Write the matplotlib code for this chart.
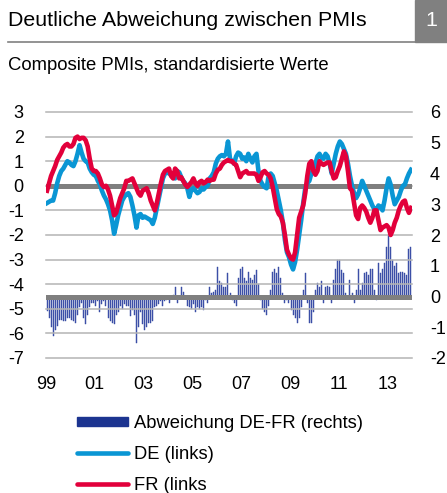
import numpy as np
import matplotlib
matplotlib.use("Agg")
import matplotlib.pyplot as plt
from matplotlib.patches import Rectangle, Patch
from matplotlib.lines import Line2D

plt.rcParams['font.family'] = ['Liberation Sans', 'DejaVu Sans']

# monthly values Jan 1999 - Dec 2013
de = [-0.7, -0.65, -0.6, -0.6, -0.3, 0.1, 0.4, 0.6, 0.7, 0.85, 1.0, 0.95,
      0.85, 0.8, 1.0, 1.3, 1.65, 1.35, 1.1, 1.0, 0.95, 0.7, 0.55, 0.45,
      0.4, 0.2, 0.05, -0.2, -0.4, -0.55, -0.75, -1.0, -1.4, -1.95, -1.6, -1.2,
      -0.9, -0.6, -0.45, -0.35, -0.3, -0.45, -0.8, -1.2, -1.7, -1.2, -1.15, -1.3,
      -1.25, -1.3, -1.35, -1.4, -1.55, -1.3, -0.9, -0.5, -0.1, 0.3, 0.5, 0.55,
      0.5, 0.45, 0.35, 0.3, 0.6, 0.55, 0.35, 0.2, 0.1, -0.1, -0.45, -0.15,
      -0.1, -0.2, -0.3, -0.25, -0.1, -0.15, -0.05, 0.0, 0.3, 0.4, 0.55, 0.9,
      1.1, 1.2, 1.25, 1.2, 1.3, 1.8, 1.1, 1.0, 0.9, 1.2, 1.35, 1.3,
      1.1, 1.15, 1.0, 1.3, 1.1, 0.95, 1.2, 1.3, 0.6, 0.2, 0.05, -0.05,
      -0.1, 0.4, 0.5, 0.4, 0.1, -0.2, -0.6, -1.0, -1.5, -2.2, -2.7, -2.9,
      -3.2, -3.4, -3.1, -2.6, -2.0, -1.4, -0.7, -0.1, 0.1, 0.2, 0.5, 0.7,
      0.9, 1.2, 1.3, 1.15, 1.1, 1.3, 1.2, 0.9, 0.5, 0.9, 1.3, 1.6,
      1.8, 1.7, 1.5, 1.3, 0.9, 0.4, 0.0, -0.3, -0.5, -0.35, -0.1, 0.2,
      0.0, -0.2, -0.4, -0.6, -0.8, -0.95, -1.0, -0.8, -0.85, -1.0, -0.6, -0.1,
      0.3, 0.05, -0.4, -0.75, -0.6, -0.45, -0.2, 0.0, 0.05, 0.3, 0.5, 0.65]

fr = [-0.2, 0.1, 0.4, 0.6, 0.8, 1.05, 1.2, 1.35, 1.55, 1.65, 1.7, 1.6,
      1.6, 1.7, 1.95, 2.0, 1.9, 1.95, 1.95, 1.85, 1.6, 1.1, 0.7, 0.6,
      0.6, 0.5, 0.3, 0.05, -0.05, 0.0, -0.15, -0.4, -0.8, -1.2, -1.1, -0.8,
      -0.5, -0.3, -0.1, 0.2, 0.2, 0.25, 0.3, 0.1, -0.1, -0.3, -0.4, -0.2,
      -0.15, -0.1, -0.3, -0.6, -0.8, -1.0, -0.7, -0.3, 0.1, 0.45, 0.6, 0.65,
      0.7, 0.4, 0.3, 0.7, 0.6, 0.3, 0.35, 0.2, 0.05, -0.05, 0.05, 0.15,
      0.3, 0.1, 0.0, 0.15, 0.2, 0.1, 0.15, 0.25, 0.2, 0.25, 0.25, 0.5,
      0.65, 0.7, 0.85, 0.95, 1.0, 1.05, 1.0, 1.0, 0.9, 0.85, 0.6, 0.35,
      0.5, 0.55, 0.6, 0.5, 0.5, 0.5, 0.5, 0.45, 0.2, 0.35, 0.55, 0.6,
      0.5, 0.45, 0.3, -0.05, -0.5, -0.95, -1.15, -1.25, -1.5, -2.0, -2.6, -2.8,
      -2.95, -3.0, -2.7, -2.0, -1.3, -1.05, -0.8, -0.3, 0.4, 0.9, 1.0, 0.6,
      0.45, 0.6, 1.0, 0.9, 0.85, 0.9, 0.95, 0.95, 0.6, 0.3, 0.35, 0.6,
      0.8, 1.1, 1.4, 1.2, 0.6, -0.1, -0.2, -0.7, -1.2, -1.35, -0.9, -0.8,
      -0.9, -1.05, -1.3, -1.5, -1.3, -1.0, -1.0, -1.4, -1.8, -1.7, -1.65, -1.6,
      -1.7, -2.0, -1.8, -1.5, -1.3, -1.0, -0.8, -0.65, -0.6, -0.9, -1.1, -0.9]

abw = [-0.46, -0.7, -1.0, -1.27, -1.1, -0.95, -0.75, -0.75, -0.8, -0.8, -0.7, -0.7,
       -0.75, -0.8, -0.85, -0.6, -0.35, -0.2, -0.7, -0.9, -0.6, -0.35, -0.2, -0.2,
       -0.3, -0.15, -0.5, -0.25, -0.15, -0.3, -0.7, -0.8, -0.85, -0.9, -0.6, -0.5,
       -0.3, -0.4, -0.25, -0.3, -0.3, -0.65, -0.45, -0.6, -1.5, -1.0, -0.5, -0.9,
       -1.1, -1.0, -0.85, -0.85, -0.8, -0.35, -0.3, -0.25, -0.15, -0.3, -0.15, -0.1,
       -0.2, 0.0, 0.05, 0.3, -0.2, 0.0, 0.3, 0.15, 0.0, -0.3, -0.35, -0.4,
       -0.25, -0.5, -0.35, -0.4, -0.35, -0.45, -0.1, -0.2, 0.3, 0.1, 0.15, 0.2,
       0.95, 0.5, 0.45, 0.3, 0.3, 0.75, 0.1, -0.1, -0.2, -0.3, 0.6, 0.9,
       0.95, 0.6, 0.5, 0.8, 0.6, 0.55, 0.7, 0.85, 0.4, -0.1, -0.4, -0.5,
       -0.6, -0.3, 0.2, 0.8, 0.9, 0.75, 0.95, 0.6, 0.1, -0.2, -0.1, -0.2,
       -0.45, -0.6, -0.7, -0.85, -0.7, -0.35, 0.2, 0.75, -0.2, -0.85, -0.85, -0.5,
       0.2, 0.45, 0.3, 0.5, -0.2, 0.3, 0.35, 0.3, -0.2, 0.55, 0.9, 1.2,
       1.2, 0.85, 0.75, 0.1, -0.05, 0.55, 0.1, -0.2, 0.2, 0.9, 0.2, 0.45,
       0.76, 0.8, 0.7, 0.9, 0.88, 0.2, -0.1, 1.1, 0.75, 0.9, 1.1, 1.6,
       2.0, 1.6, 1.2, 1.0, 1.1, 0.75, 0.8, 0.8, 0.75, 0.7, 1.55, 1.6]

year_labels = ['99', '01', '03', '05', '07', '09', '11', '13']
left_ticks = [3, 2, 1, 0, -1, -2, -3, -4, -5, -6, -7]
right_ticks = [6, 5, 4, 3, 2, 1, 0, -1, -2]

W, H = 447, 493
fig = plt.figure(figsize=(W / 100, H / 100), dpi=100)

# header
fig.text(8 / W, 1 - 20 / H, 'Deutliche Abweichung zwischen PMIs', fontsize=15.4,
         ha='left', va='center')
fig.patches.append(Rectangle((415 / W, 1 - 42 / H), 32 / W, 42 / H,
                             transform=fig.transFigure, color='#808080'))
fig.text(431 / W, 1 - 21 / H, '1', fontsize=15.4, color='white', ha='center', va='center')
fig.lines.append(Line2D([8 / W, 415 / W], [1 - 42 / H, 1 - 42 / H],
                        transform=fig.transFigure, color='#808080', lw=1.2))
fig.text(8 / W, 1 - 66 / H, 'Composite PMIs, standardisierte Werte', fontsize=13.3,
         ha='left', va='center')

x = np.arange(len(de))

ax2 = fig.add_axes([46 / W, 1 - 358 / H, 366 / W, 246 / H])
ax = ax2.twinx()
ax.set_zorder(ax2.get_zorder() + 1)
ax.patch.set_visible(False)

# bars on right axis
ax2.bar(x, abw, width=0.5, color='#4a5cb0', edgecolor='#2a3f9c', lw=0.3, zorder=2)
ax2.axhline(0, color='#7f7f7f', lw=3.6, zorder=3)
ax2.set_ylim(-2, 6)
ax2.yaxis.tick_right()
ax2.set_yticks(right_ticks)
ax2.set_yticklabels([str(t) for t in right_ticks])

# lines on left axis
ax.yaxis.tick_left()
for t in left_ticks:
    ax.axhline(t, color='#b4b4b4', lw=1.1, zorder=1, clip_on=False)
ax.axhline(0, color='#7f7f7f', lw=3.6, zorder=2)
ax.plot(x, de, color='#0a96d4', lw=3.3, zorder=3, solid_joinstyle='round')
ax.plot(x, fr, color='#e2003b', lw=3.3, zorder=4, solid_joinstyle='round')
ax.set_ylim(-7, 3)
ax.set_yticks(left_ticks)
ax.set_yticklabels([str(t) for t in left_ticks])

for a in (ax, ax2):
    a.set_xlim(-0.5, 179.5)
    for s in a.spines.values():
        s.set_visible(False)
    a.tick_params(length=0, labelsize=13, colors='black')

ax2.set_xticks([24 * k - 0.5 for k in range(len(year_labels))])
ax2.set_xticklabels(year_labels)
ax2.tick_params(axis='x', pad=13)
ax2.tick_params(axis='y', pad=13)
ax.tick_params(axis='y', pad=16)
for lab in ax2.get_yticklabels():
    lab.set_ha('left')

handles = [Patch(color='#1c3490'),
           Line2D([], [], color='#0a96d4', lw=3.3, solid_capstyle='round'),
           Line2D([], [], color='#e2003b', lw=3.3, solid_capstyle='round')]
labels = ['Abweichung DE-FR (rechts)', 'DE (links)', 'FR (links']
fig.legend(handles, labels, loc='upper left', bbox_to_anchor=(77 / W, 1 - 415 / H),
           frameon=False, fontsize=13.2, handlelength=2.8, handleheight=0.45,
           handletextpad=0.3, labelspacing=0.76, borderaxespad=0, borderpad=0)

fig.savefig('out.png', dpi=100)
